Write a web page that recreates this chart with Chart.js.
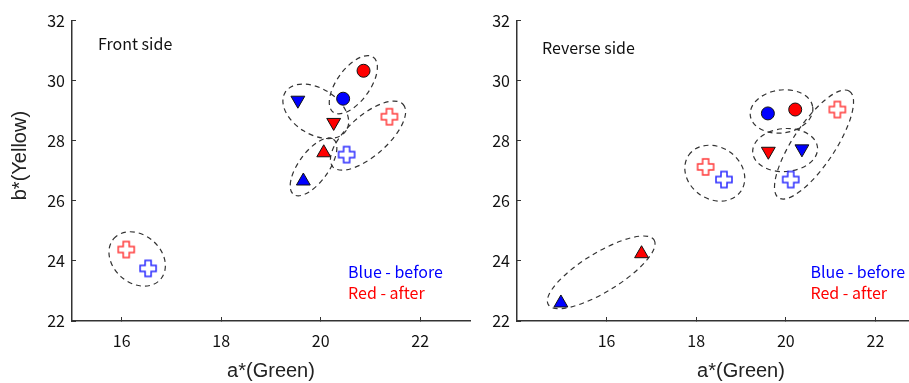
<!DOCTYPE html>
<html>
<head>
<meta charset="utf-8">
<script src="https://cdn.jsdelivr.net/npm/chart.js@4/dist/chart.umd.min.js"></script>
<style>
  html, body { margin: 0; padding: 0; background: #fff; overflow: hidden; }
  #frontBox { position: absolute; left: 0; top: 0; width: 480px; height: 383px; }
  #reverseBox { position: absolute; left: 445px; top: 0; width: 530px; height: 383px; }
</style>
</head>
<body>
<div id="frontBox"><canvas id="frontChart"></canvas></div>
<div id="reverseBox"><canvas id="reverseChart"></canvas></div>
<script>
// marker of each before/after pair, same order in every array below
const markerTypes = ["circle", "triangle", "invTriangle", "cross", "cross"];

const frontBeforeA = [20.45, 19.65, 19.54, 20.52, 16.53];
const frontBeforeB = [29.40, 26.66, 29.35, 27.54, 23.75];
const frontAfterA = [20.86, 20.06, 20.26, 21.38, 16.09];
const frontAfterB = [30.33, 27.60, 28.61, 28.80, 24.38];

const reverseBeforeA = [19.60, 14.98, 20.36, 20.11, 18.62];
const reverseBeforeB = [28.91, 22.60, 27.73, 26.71, 26.71];
const reverseAfterA = [20.21, 16.78, 19.61, 21.15, 18.21];
const reverseAfterB = [29.04, 24.24, 27.65, 29.04, 27.13];

const aTicks = [16, 18, 20, 22];
const bTicks = [22, 24, 26, 28, 30, 32];

const BLUE = "#0000ff";
const RED = "#ff0000";
const AXIS = "#333333";
const FONT = "'Noto Sans CJK KR', 'Noto Sans', sans-serif";

Chart.defaults.font.family = FONT;
Chart.defaults.color = "#111";

function makeCross(color) {
  const c = document.createElement("canvas");
  c.width = 20;
  c.height = 20;
  const g = c.getContext("2d");
  const m = 10, L = 8, w = 3;
  g.beginPath();
  g.moveTo(m - w, m - L);
  g.lineTo(m + w, m - L);
  g.lineTo(m + w, m - w);
  g.lineTo(m + L, m - w);
  g.lineTo(m + L, m + w);
  g.lineTo(m + w, m + w);
  g.lineTo(m + w, m + L);
  g.lineTo(m - w, m + L);
  g.lineTo(m - w, m + w);
  g.lineTo(m - L, m + w);
  g.lineTo(m - L, m - w);
  g.lineTo(m - w, m - w);
  g.closePath();
  g.fillStyle = "#fff";
  g.fill();
  g.strokeStyle = color;
  g.lineWidth = 1.5;
  g.stroke();
  return c;
}
const crossImg = { before: makeCross("#2a2aff"), after: makeCross("#ff3a3a") };

function makeSet(marker, when, a, b) {
  const color = when === "before" ? BLUE : RED;
  const set = {
    label: marker + " " + when,
    data: [{ x: a, y: b }],
    backgroundColor: color,
    borderColor: "#111",
    borderWidth: 1,
    pointRadius: 6.5,
    pointHoverRadius: 6.5,
    pointStyle: "circle",
    rotation: 0,
  };
  if (marker === "triangle" || marker === "invTriangle") {
    set.pointStyle = "triangle";
    set.pointRadius = 8;
    set.rotation = marker === "invTriangle" ? 180 : 0;
  } else if (marker === "cross") {
    set.pointStyle = crossImg[when];
    set.pointRadius = 8;
  }
  return set;
}

function buildDatasets(beforeA, beforeB, afterA, afterB) {
  const sets = [];
  markerTypes.forEach((m, i) => {
    sets.push(makeSet(m, "before", beforeA[i], beforeB[i]));
    sets.push(makeSet(m, "after", afterA[i], afterB[i]));
  });
  return sets;
}

// dashed ellipse around each before/after pair
const pairRings = {
  id: "pairRings",
  beforeDatasetsDraw(chart, args, opts) {
    const { ctx, scales: { x, y } } = chart;
    ctx.save();
    ctx.strokeStyle = "#333";
    ctx.lineWidth = 1.2;
    ctx.setLineDash([5, 4]);
    opts.rings.forEach((r, i) => {
      const p0 = chart.data.datasets[2 * i].data[0];
      const p1 = chart.data.datasets[2 * i + 1].data[0];
      const x0 = x.getPixelForValue(p0.x), y0 = y.getPixelForValue(p0.y);
      const x1 = x.getPixelForValue(p1.x), y1 = y.getPixelForValue(p1.y);
      const ang = Math.atan2(y1 - y0, x1 - x0);
      ctx.beginPath();
      ctx.ellipse((x0 + x1) / 2, (y0 + y1) / 2 + (r[2] || 0), r[0], r[1], ang, 0, Math.PI * 2);
      ctx.stroke();
    });
    ctx.restore();
  },
};

// panel title, colour key and the y axis title
const notes = {
  id: "notes",
  afterDraw(chart, args, opts) {
    const { ctx, chartArea, scales: { x, y } } = chart;
    ctx.save();
    ctx.font = "16px " + FONT;
    ctx.textAlign = "left";
    ctx.textBaseline = "alphabetic";
    ctx.fillStyle = "#111";
    ctx.fillText(opts.title, chartArea.left + opts.titleDx, chartArea.top + opts.titleDy);
    ctx.fillStyle = BLUE;
    ctx.fillText("Blue - before", x.getPixelForValue(20.55), y.getPixelForValue(23.42));
    ctx.fillStyle = RED;
    ctx.fillText("Red - after", x.getPixelForValue(20.55), y.getPixelForValue(22.74));
    if (opts.yTitle) {
      ctx.translate(chartArea.left - 52, chartArea.top + 135);
      ctx.rotate(-Math.PI / 2);
      ctx.textAlign = "center";
      ctx.textBaseline = "middle";
      ctx.font = "20px 'Liberation Sans', Arial, sans-serif";
      ctx.fillStyle = "#222";
      ctx.fillText(opts.yTitle, 0, 0);
    }
    ctx.restore();
  },
};

function makeChart(id, datasets, xMin, xMax, noteOpts, rings) {
  return new Chart(document.getElementById(id), {
    type: "scatter",
    data: { datasets: datasets },
    plugins: [pairRings, notes],
    options: {
      responsive: true,
      maintainAspectRatio: false,
      animation: false,
      layout: { padding: { left: 0, right: 10, top: 17, bottom: 0 } },
      plugins: {
        legend: { display: false },
        tooltip: { enabled: false },
        pairRings: { rings: rings },
        notes: noteOpts,
      },
      scales: {
        x: {
          type: "linear",
          min: xMin,
          max: xMax,
          afterBuildTicks: (scale) => { scale.ticks = aTicks.map((v) => ({ value: v })); },
          afterFit: (scale) => { scale.height = 62; },
          border: { display: true, color: AXIS, width: 1.5 },
          grid: { display: true, drawOnChartArea: false, drawTicks: true, tickLength: -4, color: AXIS, tickWidth: 1 },
          ticks: { padding: 14, color: "#111", font: { size: 16 }, maxRotation: 0 },
          title: {
            display: true,
            text: "a*(Green)",
            color: "#222",
            font: { family: "'Liberation Sans', Arial, sans-serif", size: 20 },
            padding: { top: 0, bottom: 0 },
          },
        },
        y: {
          type: "linear",
          min: 22,
          max: 32,
          afterBuildTicks: (scale) => { scale.ticks = bTicks.map((v) => ({ value: v })); },
          afterFit: (scale) => { scale.width = 72; },
          border: { display: true, color: AXIS, width: 1.5 },
          grid: { display: true, drawOnChartArea: false, drawTicks: true, tickLength: -4, color: AXIS, tickWidth: 1 },
          ticks: { padding: 11, color: "#111", font: { size: 16 } },
        },
      },
    },
  });
}

makeChart(
  "frontChart",
  buildDatasets(frontBeforeA, frontBeforeB, frontAfterA, frontAfterB),
  15, 23,
  { title: "Front side", titleDx: 26, titleDy: 29, yTitle: "b*(Yellow)" },
  [[34, 16.5], [34, 15], [36, 23], [47, 20], [31, 24]]
);

makeChart(
  "reverseChart",
  buildDatasets(reverseBeforeA, reverseBeforeB, reverseAfterA, reverseAfterB),
  14, 24,
  { title: "Reverse side", titleDx: 25, titleDy: 33, yTitle: "" },
  [[31.5, 21.5], [62, 19.5, -6], [32.5, 21.5], [64, 21], [31.7, 26]]
);
</script>
</body>
</html>
